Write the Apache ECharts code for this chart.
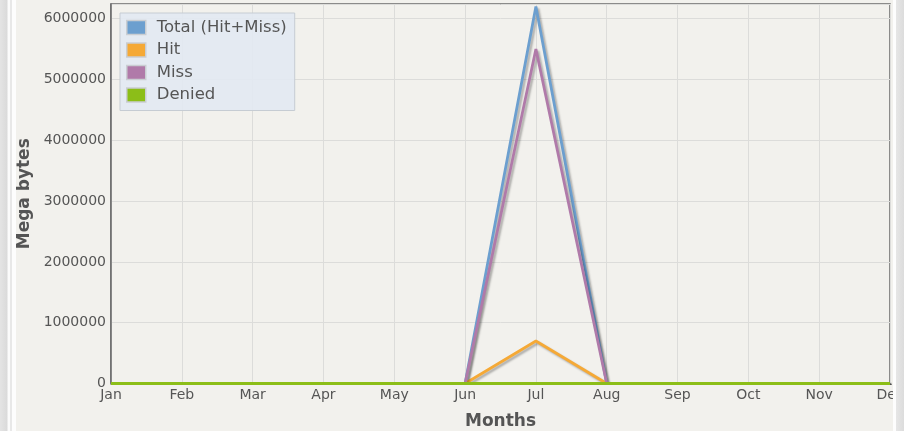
<!DOCTYPE html>
<html>
<head>
<meta charset="utf-8">
<script src="https://cdn.jsdelivr.net/npm/echarts@6/dist/echarts.min.js"></script>
<style>
  html, body { margin: 0; padding: 0; width: 904px; height: 431px; overflow: hidden; background: #f2f1ed; }
  #frameLeft { position: absolute; left: 0; top: 0; width: 16px; height: 431px;
    background: linear-gradient(to right, #e4e4e4 0px, #dadada 7px, #fbfbfb 8px, #fbfbfb 10px, #e8e8e8 10px, #e8e8e8 12px, #fdfdfd 12px, #fdfdfd 16px); }
  #frameRight { position: absolute; left: 893px; top: 0; width: 11px; height: 431px;
    background: linear-gradient(to right, #fdfdfd 0px, #fdfdfd 3px, #e6e6e6 3px, #dcdcdc 11px); }
  #chart { position: absolute; left: 16px; top: 0; width: 877px; height: 431px; overflow: hidden; }
</style>
</head>
<body>
<div id="frameLeft"></div>
<div id="chart"></div>
<div id="frameRight"></div>
<script>
// Monthly traffic, in megabytes
const months = ['Jan', 'Feb', 'Mar', 'Apr', 'May', 'Jun', 'Jul', 'Aug', 'Sep', 'Oct', 'Nov', 'Dec'];
const totalHitMiss = [0, 0, 0, 0, 0, 0, 6200000, 0, 0, 0, 0, 0];
const hit          = [0, 0, 0, 0, 0, 0, 700000, 0, 0, 0, 0, 0];
const miss         = [0, 0, 0, 0, 0, 0, 5500000, 0, 0, 0, 0, 0];
const denied       = [0, 0, 0, 0, 0, 0, 0, 0, 0, 0, 0, 0];

const seriesNames = ['Total (Hit+Miss)', 'Hit', 'Miss', 'Denied'];
const seriesColors = ['#6c9fcf', '#f5a936', '#b07aa9', '#8cbe18'];
const seriesData = [totalHitMiss, hit, miss, denied];

const FONT = 'DejaVu Sans';

const chart = echarts.init(document.getElementById('chart'), null, { renderer: 'canvas' });

chart.setOption({
  backgroundColor: '#f2f1ed',
  animation: false,
  textStyle: { fontFamily: FONT },
  grid: {
    left: 95, right: 3, top: 4, bottom: 47.5,
    outerBoundsMode: 'none',
    containLabel: false,
    show: true, borderColor: '#6a6a6a', borderWidth: 1.5, backgroundColor: 'transparent'
  },
  legend: {
    orient: 'vertical',
    left: 104, top: 13,
    padding: [6, 8, 7, 6],
    itemGap: 5.5,
    itemWidth: 19, itemHeight: 14,
    icon: 'rect',
    backgroundColor: 'rgba(226,233,242,0.9)',
    borderColor: '#c6ccd3', borderWidth: 1,
    textStyle: { fontFamily: FONT, fontSize: 16.5, color: '#555555', padding: [0, 0, 0, 6] },
    itemStyle: { borderColor: '#c9cdd2', borderWidth: 1.5 },
    data: seriesNames
  },
  xAxis: {
    type: 'category',
    data: months,
    boundaryGap: false,
    name: 'Months',
    nameLocation: 'middle',
    nameGap: 30,
    nameTextStyle: { fontFamily: FONT, fontSize: 17, fontWeight: 'bold', color: '#555555' },
    axisLine: { show: true, lineStyle: { color: '#8a8a8a', width: 1.5 } },
    axisTick: { show: false },
    axisLabel: { interval: 0, margin: 5, fontFamily: FONT, fontSize: 14, color: '#555555' },
    splitLine: { show: true, lineStyle: { color: '#dcdcda', width: 1 } }
  },
  yAxis: {
    type: 'value',
    min: 0,
    max: 6240000,
    interval: 1000000,
    name: 'Mega bytes',
    nameLocation: 'middle',
    nameGap: 76,
    nameTextStyle: { fontFamily: FONT, fontSize: 17, fontWeight: 'bold', color: '#555555' },
    axisLine: { show: true, lineStyle: { color: '#6a6a6a', width: 1.5 } },
    axisTick: { show: false },
    axisLabel: {
      showMaxLabel: false, margin: 5, fontFamily: FONT, fontSize: 14, color: '#555555',
      formatter: v => String(v)
    },
    splitLine: { show: true, lineStyle: { color: '#dcdcda', width: 1 } }
  },
  series: seriesNames.map((name, i) => ({
    name: name,
    type: 'line',
    data: seriesData[i],
    symbol: 'none',
    color: seriesColors[i],
    lineStyle: {
      color: seriesColors[i], width: 2.8,
      shadowColor: 'rgba(0,0,0,0.28)', shadowBlur: 2, shadowOffsetX: 2, shadowOffsetY: 2
    },
    z: 2 + i
  }))
});
</script>
</body>
</html>
